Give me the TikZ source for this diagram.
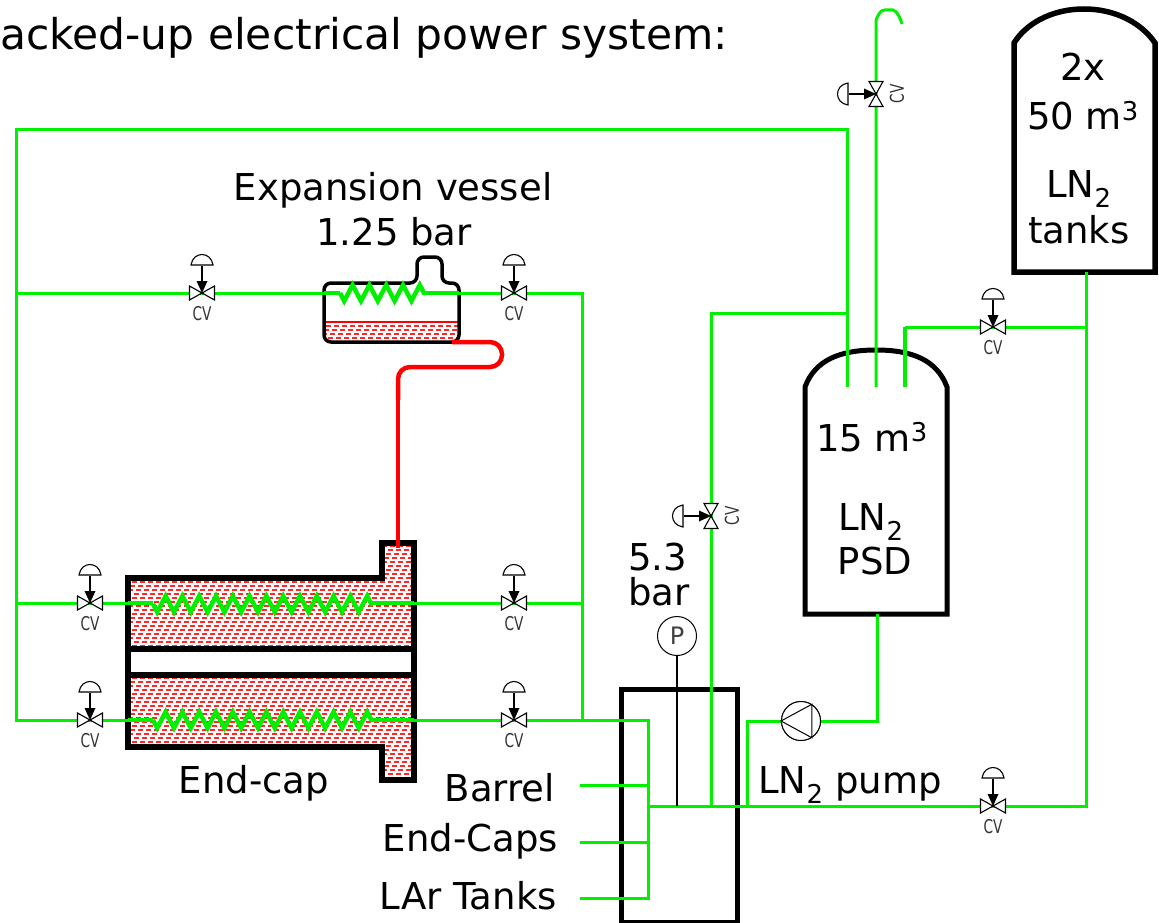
\documentclass[tikz,border=0pt]{standalone}
\usepackage{fontspec}
\setmainfont{DejaVu Sans}
\usetikzlibrary{decorations.pathmorphing}

\tikzset{
  valve/.pic={
    \draw[fill=white, line width=1.1pt] (-12.5,-7) -- (12.5,7) -- (12.5,-7) -- (-12.5,7) -- cycle;
    \draw[line width=1.5pt] (0,-27) -- (0,-8);
    \fill (-5.5,-12) -- (5.5,-12) -- (0,0) -- cycle;
    \draw[line width=1.1pt, fill=white] (-11,-28) .. controls (-9,-42) and (9,-42) .. (11,-28) -- cycle;
    \node[cvtext] (-cv) at (0,21) {CV};
  }
}

\newcommand{\hatchlines}[2]{
  \foreach \yy [count=\ii] in {#1,#2,...,790} {
    \draw[hatchline, dash phase=\ii*2] (120,\yy) -- (470,\yy);
  }
}

\begin{document}
\begin{tikzpicture}[x=1pt, y=-1pt, line join=miter,
    pipe/.style={draw={rgb,255:red,0;green,240;blue,0}, line width=3pt},
    pipethick/.style={pipe, line width=4.5pt},
    coil/.style={pipethick, decorate, decoration={zigzag, mirror, segment length=16.8pt, amplitude=8pt}},
    redpipe/.style={draw={rgb,255:red,255;green,0;blue,0}, line width=4.5pt, rounded corners=12pt},
    wall/.style={draw=black, line width=5pt},
    hatchline/.style={draw={rgb,255:red,255;green,40;blue,40}, line width=1.5pt, dash pattern=on 5pt off 3pt},
    cvtext/.style={font=\fontsize{19}{19}\selectfont\color{black!80}, inner sep=0pt, xscale=.72, transform shape},
    lbl/.style={font=\fontsize{37}{37}\selectfont, inner sep=0pt, anchor=base},
    lblw/.style={lbl, anchor=base west},
    lble/.style={lbl, anchor=base east},
    gauge/.style={circle, draw=black, line width=1pt, minimum size=39pt, inner sep=0pt, font=\fontsize{24}{24}\selectfont\color{black!75}}]

\useasboundingbox (0,0) rectangle (1159,923);

% valves
\coordinate (vexpin) at (202,293);
\coordinate (vexpout) at (514,293);
\coordinate (vcapin1) at (90,603);
\coordinate (vcapout1) at (514,603);
\coordinate (vcapin2) at (90,720);
\coordinate (vcapout2) at (514,720);
\coordinate (vdewar) at (711,516);
\coordinate (vvent) at (876,94);
\coordinate (vfill) at (993,327);
\coordinate (vreturn) at (993,806);

% pipe corners
\coordinate (lt) at (16,130);
\coordinate (lb) at (16,720);
\coordinate (l1) at (16,293);
\coordinate (l2) at (16,603);
\coordinate (rt) at (582,293);
\coordinate (r2) at (582,603);
\coordinate (rb) at (582,720);
\coordinate (psdin) at (847,387);
\coordinate (psdtop) at (847,130);
\coordinate (psdvent) at (876,387);
\coordinate (ventend) at (876,20);
\coordinate (psdfill) at (905,387);
\coordinate (fillc) at (905,327);
\coordinate (feedt) at (1086,327);
\coordinate (feedb) at (1086,806);
\coordinate (tankout) at (1086,272);
\coordinate (col) at (648,720);
\coordinate (colb) at (648,898);
\coordinate (colm) at (648,806);
\coordinate (bar1) at (580,785);
\coordinate (col1) at (648,785);
\coordinate (bar2) at (580,842);
\coordinate (col2) at (648,842);
\coordinate (bar3) at (580,898);
\coordinate (dew) at (711,806);
\coordinate (dewt) at (711,313);
\coordinate (dewr) at (847,313);
\coordinate (pumpl) at (747,721);
\coordinate (pumpb) at (747,806);
\coordinate (psdout) at (877,614);
\coordinate (psdoutb) at (877,721);

% end-cap
\begin{scope}
  \clip (128,578) -- (382,578) -- (382,543) -- (414,543) -- (414,780) -- (382,780) -- (382,747) -- (128,747) -- cycle;
  \hatchlines{546}{550}
\end{scope}
\draw[wall, line width=5.5pt, fill=white] (128,649) rectangle (414,675);
\draw[wall, line width=5.5pt] (128,578) -- (382,578) -- (382,543) -- (414,543) -- (414,780) -- (382,780) -- (382,747) -- (128,747) -- cycle;

% expansion vessel
\begin{scope}
  \clip (325,322) rectangle (458,341);
  \hatchlines{326}{330}
\end{scope}
\draw[draw=red, line width=2pt] (326,322) -- (458,322);
\draw[draw=black, line width=3.5pt, rounded corners=7pt] (324,283) -- (417,283) -- (417,257) -- (442,257) -- (442,283) -- (459,283) -- (459,342) -- (324,342) -- cycle;

% tanks and boxes
\draw[wall] (805,387) .. controls (815,360) and (840,350) .. (876,350) .. controls (912,350) and (937,360) .. (947,387) -- (947,614) -- (805,614) -- cycle;
\draw[wall, line width=5.5pt] (1014,43) .. controls (1025,25) and (1050,9) .. (1084,9) .. controls (1118,9) and (1143,25) .. (1155,43) -- (1155,272) -- (1014,272) -- cycle;
\draw[wall] (621,922) -- (621,689) -- (737,689) -- (737,922) -- cycle;

% red line
\draw[redpipe] (452,342) -- (502,342) -- (502,367) -- (398,367) -- (398,400);
\draw[redpipe] (398,390) -- (398,548);

% coils
\draw[coil] (153,604) -- (372,604);
\draw[coil] (153,720) -- (372,720);
\draw[coil] (340,293) -- (425,293);
\draw[pipethick] (128,603) -- (153,603) (372,603) -- (414,603);
\draw[pipethick] (128,720) -- (153,720) (372,720) -- (414,720);
\draw[pipethick] (324,293) -- (340,293) (425,293) -- (459,293);

% green lines
\draw[pipe] (psdin) -- (psdtop) -- (lt) -- (lb) -- (vcapin2) -- (128,720);
\draw[pipe] (l1) -- (vexpin) -- (324,293);
\draw[pipe] (l2) -- (vcapin1) -- (128,603);
\draw[pipe] (459,293) -- (vexpout) -- (rt) -- (rb);
\draw[pipe] (414,603) -- (vcapout1) -- (r2);
\draw[pipe] (414,720) -- (vcapout2) -- (rb) -- (col) -- (colb) -- (bar3);
\draw[pipe] (bar1) -- (col1);
\draw[pipe] (bar2) -- (col2);
\draw[pipe] (colm) -- (vreturn) -- (feedb) -- (feedt) -- (tankout);
\draw[pipe] (dew) -- (vdewar) -- (dewt) -- (dewr);
\draw[pipe] (psdvent) -- (vvent) -- (ventend) .. controls (879,13) and (881,10) .. (885,10) -- (893,10) .. controls (897,11) and (900,17) .. (902,24);
\draw[pipethick] (psdfill) -- (fillc);
\draw[pipe] (fillc) -- (vfill) -- (feedt);
\node[gauge, fill=white] (pump) at (801,721) {};
\draw[pipe] (psdout) -- (psdoutb) -- (pump);
\draw[pipe] (pump) -- (pumpl) -- (pumpb);
\node[gauge, fill=white] (pump) at (801,721) {};
\draw[line width=1pt] (pump.180) -- (pump.57) -- (pump.-57) -- cycle;

% pressure gauge
\node[gauge] (gauge) at (677,636) {P};
\coordinate (gaugeb) at (677,806);
\draw[line width=1.3pt] (gauge) ++(0,19.5) -- (gaugeb);

\pic at (vexpin) {valve};
\pic at (vexpout) {valve};
\pic at (vcapin1) {valve};
\pic at (vcapout1) {valve};
\pic at (vcapin2) {valve};
\pic at (vcapout2) {valve};
\pic at (vfill) {valve};
\pic at (vreturn) {valve};
\pic[rotate=90] at (vdewar) {valve};
\pic[rotate=90] at (vvent) {valve};

% labels
\node[lblw, font=\fontsize{42.4}{42.4}\selectfont] (title) at (0,50) {acked-up electrical power system:};
\node[lbl] (exp1) at (393,200) {Expansion vessel};
\node[lbl] (exp2) at (394,245) {1.25 bar};
\node[lbl] (endcap) at (254,793) {End-cap};
\node[lble] (barrel) at (555,801) {Barrel};
\node[lble] (caps) at (558,851) {End-Caps};
\node[lble] (lar) at (557,909) {LAr Tanks};
\node[lblw] (press1) at (628,570) {5.3};
\node[lblw] (press2) at (628,605) {bar};
\node[lblw] (pumplbl) at (758,793) {LN\textsubscript{2} pump};
\node[lbl] (psd1) at (872,451) {15 m\textsuperscript{3}};
\node[lbl] (psd2) at (871,530) {LN\textsubscript{2}};
\node[lbl] (psd3) at (875,574) {PSD};
\node[lbl] (tank1) at (1083,81) {2x};
\node[lbl] (tank2) at (1083,130) {50 m\textsuperscript{3}};
\node[lbl] (tank3) at (1079,197) {LN\textsubscript{2}};
\node[lbl] (tank4) at (1079,243) {tanks};
\end{tikzpicture}
\end{document}
